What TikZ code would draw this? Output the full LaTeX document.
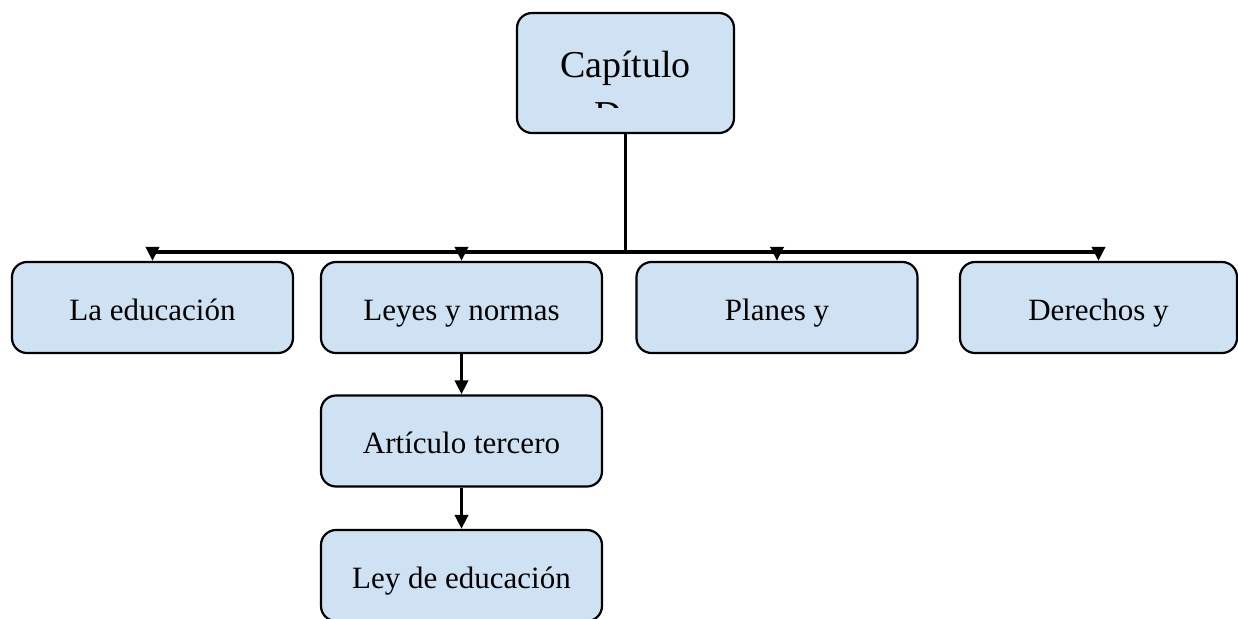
\documentclass[tikz,border=0pt]{standalone}
\usepackage{fontspec}
\setmainfont{Liberation Serif}
\usetikzlibrary{arrows.meta}
\definecolor{boxblue}{HTML}{CFE2F3}
\tikzset{
  box/.style={draw, line width=1.1pt, fill=boxblue, rounded corners=7.5pt,
    minimum width=140.5pt, minimum height=45.5pt, inner sep=0pt,
    text height=13pt, text depth=0.5pt,
    font=\fontsize{15.5}{18}\selectfont},
  link/.style={line width=1.8pt, -{Triangle[length=7pt,width=6.5pt]}},
}
\begin{document}
\begin{tikzpicture}[x=0.5pt,y=-0.5pt]
\clip (0,0) rectangle (1238,618);

\node[box, minimum width=108.5pt, minimum height=60pt] (cap) at (625.5,73) {};
\begin{scope}
\clip (520,16) rectangle (731,107.5);
\node[anchor=base, font=\fontsize{19}{22}\selectfont] (captop) at (625.5,77) {Capítulo};
\node[anchor=base, font=\fontsize{19}{22}\selectfont] (capbot) at (625.5,127) {Dos};
\end{scope}

\node[box] (edu) at (152.5,307.5) {La educación};
\node[box] (leyes) at (461.5,307.5) {Leyes y normas};
\node[box] (planes) at (777,307.5) {Planes y};
\node[box, minimum width=138.5pt] (derechos) at (1098.5,307.5) {Derechos y};

\node[box] (art) at (461.5,441) {Artículo tercero};
\node[box] (ley) at (461.5,575.5) {Ley de educación};

\coordinate (hub) at (625.5,252);
\draw[link] (cap.south) -- (hub) -| (edu.north);
\draw[link] (cap.south) -- (hub) -| (leyes.north);
\draw[link] (cap.south) -- (hub) -| (planes.north);
\draw[link] (cap.south) -- (hub) -| (derechos.north);

\draw[link] (leyes) -- (art);
\draw[link] (art) -- (ley);
\end{tikzpicture}
\end{document}
